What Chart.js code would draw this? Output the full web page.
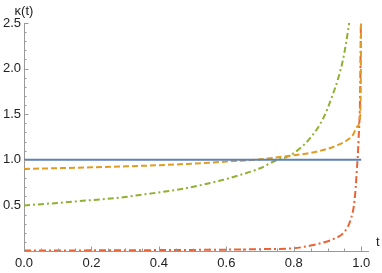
<!DOCTYPE html>
<html>
<head>
<meta charset="utf-8">
<script src="https://cdn.jsdelivr.net/npm/chart.js@4/dist/chart.umd.min.js"></script>
<style>
  html, body { margin: 0; padding: 0; background: #fff; }
  #wrap { width: 382px; height: 273px; }
</style>
</head>
<body>
<div id="wrap"><canvas id="grafico"></canvas></div>
<script>
// datos
const tAzul = [0, 1];
const kAzul = [1, 1];

const tNaranja = [0, 0.1, 0.2, 0.3, 0.4, 0.5, 0.6, 0.7, 0.8, 0.85, 0.89, 0.93, 0.96, 0.975, 0.987, 0.997, 0.9985, 0.9995];
const kNaranja = [0.9, 0.908, 0.917, 0.928, 0.941, 0.958, 0.98, 1.006, 1.05, 1.075, 1.11, 1.16, 1.22, 1.27, 1.36, 1.49, 1.8, 2.6];

const tVerde = [0, 0.1, 0.2, 0.3, 0.344, 0.463, 0.582, 0.641, 0.7, 0.745, 0.79, 0.849, 0.888, 0.913, 0.933, 0.946, 0.955, 0.965];
const kVerde = [0.5, 0.527, 0.558, 0.592, 0.615, 0.677, 0.772, 0.834, 0.907, 0.99, 1.05, 1.24, 1.46, 1.69, 1.91, 2.1, 2.28, 2.52];

const tRojo = [0, 0.2, 0.4, 0.6, 0.7, 0.8, 0.85, 0.88, 0.92, 0.95, 0.97, 0.98, 0.987, 0.992, 0.997, 0.999];
const kRojo = [0.005, 0.007, 0.01, 0.015, 0.02, 0.03, 0.06, 0.085, 0.135, 0.21, 0.36, 0.55, 0.89, 1.22, 1.8, 2.6];

const ticksX = [0, 0.2, 0.4, 0.6, 0.8, 1.0];
const ticksY = [0.5, 1.0, 1.5, 2.0, 2.5];

const pares = (ts, ks) => ts.map((t, i) => ({ x: t, y: ks[i] }));
const gris = '#999999';
const fuente = { family: 'Liberation Sans, Arial, sans-serif', size: 13 };

// marcas de eje hacia adentro, estilo Mathematica
const marcasEjes = {
    id: 'marcasEjes',
    afterDraw(chart) {
        const ctx = chart.ctx;
        const sx = chart.scales.x, sy = chart.scales.y;
        const x0 = sx.getPixelForValue(0), y0 = sy.getPixelForValue(0);
        ctx.save();
        ctx.strokeStyle = gris;
        ctx.lineWidth = 1;
        for (let i = 0; i <= 20; i++) {
            const v = i * 0.05;
            const px = Math.round(sx.getPixelForValue(v)) + 0.5;
            const largo = i % 4 === 0 ? 4.5 : 2.5;
            ctx.beginPath(); ctx.moveTo(px, y0); ctx.lineTo(px, y0 - largo); ctx.stroke();
        }
        for (let i = 1; i <= 25; i++) {
            const v = i * 0.1;
            const py = Math.round(sy.getPixelForValue(v)) + 0.5;
            const largo = i % 5 === 0 ? 4.5 : 2.5;
            ctx.beginPath(); ctx.moveTo(x0, py); ctx.lineTo(x0 + largo, py); ctx.stroke();
        }
        ctx.fillStyle = '#222';
        ctx.font = '13px Liberation Sans, Arial, sans-serif';
        ctx.textAlign = 'left';
        ctx.textBaseline = 'middle';
        ctx.fillText('t', sx.right + 8, y0 - 9);
        ctx.textAlign = 'center';
        ctx.fillText('\u03BA(t)', 24, 11);
        ctx.restore();
    }
};

new Chart(document.getElementById('grafico'), {
    type: 'line',
    data: {
        datasets: [
            { data: pares(tAzul, kAzul), borderColor: '#5E81B5', borderWidth: 2 },
            { data: pares(tNaranja, kNaranja), borderColor: '#E19C24', borderWidth: 2, borderDash: [6, 3], cubicInterpolationMode: 'monotone' },
            { data: pares(tVerde, kVerde), borderColor: '#8FB032', borderWidth: 2, borderDash: [6, 3, 2, 3], cubicInterpolationMode: 'monotone' },
            { data: pares(tRojo, kRojo), borderColor: '#EB6235', borderWidth: 2, borderDash: [7, 3, 2, 3], cubicInterpolationMode: 'monotone' }
        ]
    },
    options: {
        responsive: true, maintainAspectRatio: false, animation: false,
        layout: { padding: { top: 23, right: 14, left: 0, bottom: 0 } },
        elements: { point: { radius: 0 } },
        plugins: { legend: { display: false }, tooltip: { enabled: false } },
        scales: {
            x: {
                type: 'linear', min: 0, max: 1.02,
                grid: { display: false, drawTicks: false },
                border: { color: gris, width: 1 },
                afterBuildTicks: s => { s.ticks = ticksX.map(v => ({ value: v })); },
                afterFit: s => { s.height = 22; },
                ticks: { font: fuente, color: '#222', padding: 5, maxRotation: 0, autoSkip: false,
                         callback: v => v.toFixed(1) }
            },
            y: {
                type: 'linear', min: 0, max: 2.5,
                grid: { display: false, drawTicks: false },
                border: { color: gris, width: 1 },
                afterBuildTicks: s => { s.ticks = ticksY.map(v => ({ value: v })); },
                afterFit: s => { s.width = 24; },
                ticks: { font: fuente, color: '#222', padding: 3, autoSkip: false,
                         callback: v => v.toFixed(1) }
            }
        }
    },
    plugins: [marcasEjes]
});
</script>
</body>
</html>
